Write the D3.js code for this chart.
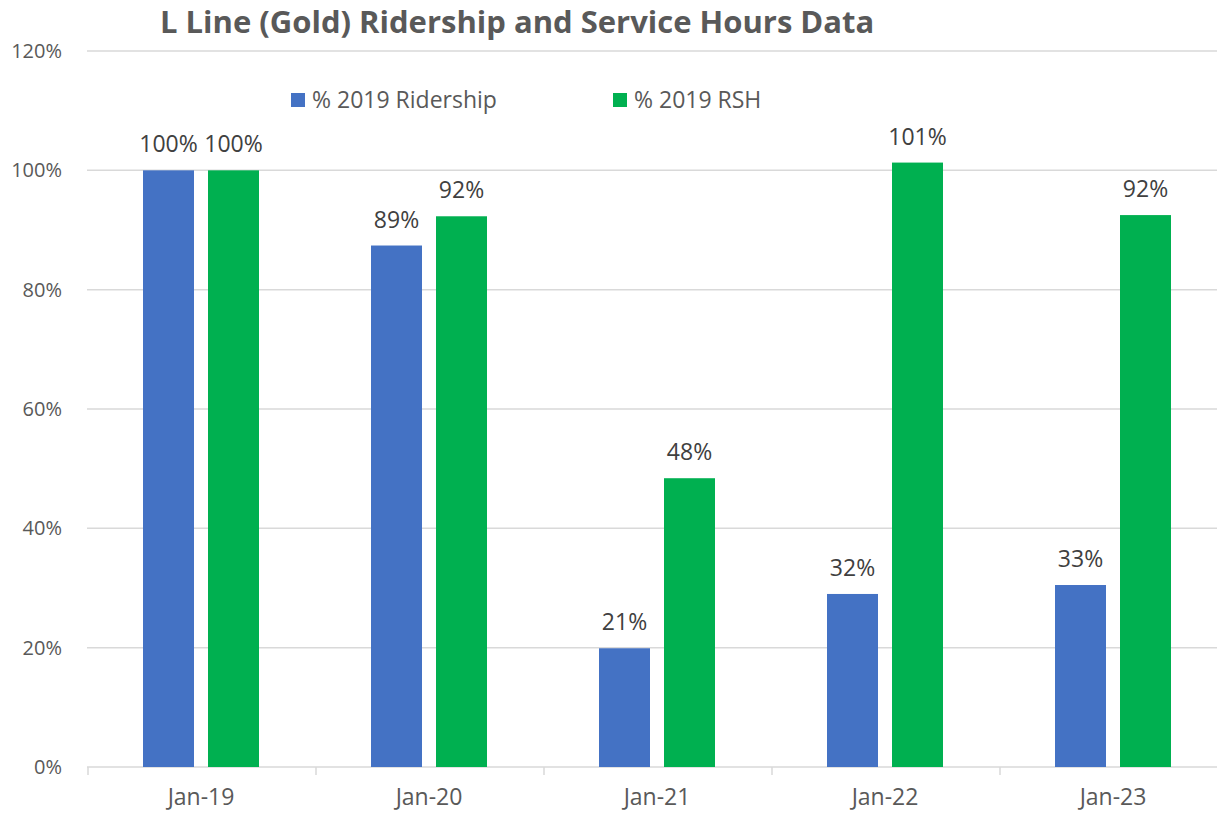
<!DOCTYPE html>
<html>
<head>
<meta charset="utf-8">
<script src="https://cdn.jsdelivr.net/npm/d3@7"></script>
<style>
  body { margin: 0; background: #fff; }
  svg { display: block; }
</style>
</head>
<body>
<div id="chart-area"></div>
<script>
// chart data
var months = ["Jan-19", "Jan-20", "Jan-21", "Jan-22", "Jan-23"];
var seriesNames = ["% 2019 Ridership", "% 2019 RSH"];
var ridership = [100, 87.4, 19.9, 29.0, 30.5];
var rsh = [100, 92.3, 48.4, 101.3, 92.5];
// data labels as printed on the chart
var ridershipLabels = ["100%", "89%", "21%", "32%", "33%"];
var rshLabels = ["100%", "92%", "48%", "101%", "92%"];
var yTicks = [0, 20, 40, 60, 80, 100, 120];

var colors = ["#4472C4", "#00B050"];
var textColor = "#595959";
var font = "'Open Sans', sans-serif";

var width = 1217, height = 814;

var svg = d3.select("#chart-area")
    .append("svg")
        .attr("width", width)
        .attr("height", height);

var x0 = 87, plotW = 228 * months.length;
var y = d3.scaleLinear()
    .domain([0, 120])
    .range([767, 51]);

var x = d3.scaleBand()
    .domain(months)
    .range([x0, x0 + plotW]);

// inner scale for the two bars in each group (51px bars, 14px gap)
var xs = d3.scaleBand()
    .domain([0, 1])
    .range([56, 228 - 56])
    .paddingInner(14 / 65);

// gridlines
svg.append("g")
    .selectAll("line")
    .data(yTicks)
    .enter()
        .append("line")
        .attr("x1", x0)
        .attr("x2", width)
        .attr("y1", d => y(d))
        .attr("y2", d => y(d))
        .attr("stroke", "#D9D9D9")
        .attr("stroke-width", 1.5);

// y labels
svg.append("g")
    .selectAll("text")
    .data(yTicks)
    .enter()
        .append("text")
        .attr("x", 62)
        .attr("y", d => y(d))
        .attr("dy", "0.35em")
        .attr("text-anchor", "end")
        .attr("fill", textColor)
        .style("font-family", font)
        .style("font-size", "20px")
        .text(d => d + "%");

// x axis
var xAxis = d3.axisBottom(x).tickSize(0).tickPadding(22);
var gx = svg.append("g")
    .attr("transform", "translate(0," + y(0) + ")")
    .call(xAxis);
gx.select(".domain").remove();
gx.selectAll("text")
    .attr("fill", textColor)
    .style("font-family", font)
    .style("font-size", "23px");

// tick marks between categories
var bounds = months.map(m => x(m)).concat([x0 + plotW]);
svg.append("g")
    .selectAll("line")
    .data(bounds)
    .enter()
        .append("line")
        .attr("x1", d => d + 1)
        .attr("x2", d => d + 1)
        .attr("y1", y(0))
        .attr("y2", y(0) + 8)
        .attr("stroke", "#D9D9D9")
        .attr("stroke-width", 1.5);

// bars
var series = [ridership, rsh];
var labels = [ridershipLabels, rshLabels];

series.forEach(function(vals, s) {
    var g = svg.append("g");
    g.selectAll("rect")
        .data(vals)
        .enter()
            .append("rect")
            .attr("x", (d, i) => x(months[i]) + xs(s))
            .attr("y", d => y(d))
            .attr("width", xs.bandwidth())
            .attr("height", d => y(0) - y(d))
            .attr("fill", colors[s]);

    g.selectAll("text")
        .data(vals)
        .enter()
            .append("text")
            .attr("x", (d, i) => x(months[i]) + xs(s) + xs.bandwidth() / 2)
            .attr("y", d => y(d) - 18)
            .attr("text-anchor", "middle")
            .attr("fill", "#404040")
            .style("font-family", font)
            .style("font-size", "23px")
            .text((d, i) => labels[s][i]);
});

// legend
var legendX = [291, 613];
var legend = svg.append("g");
seriesNames.forEach(function(name, s) {
    legend.append("rect")
        .attr("x", legendX[s])
        .attr("y", 93)
        .attr("width", 14)
        .attr("height", 14)
        .attr("fill", colors[s]);
    legend.append("text")
        .attr("x", legendX[s] + 21)
        .attr("y", 100)
        .attr("dy", "0.35em")
        .attr("fill", textColor)
        .style("font-family", font)
        .style("font-size", "23px")
        .text(name);
});

// title
svg.append("text")
    .attr("x", 160)
    .attr("y", 33)
    .attr("fill", textColor)
    .style("font-family", font)
    .style("font-size", "31px")
    .style("font-weight", "bold")
    .text("L Line (Gold) Ridership and Service Hours Data");
</script>
</body>
</html>
